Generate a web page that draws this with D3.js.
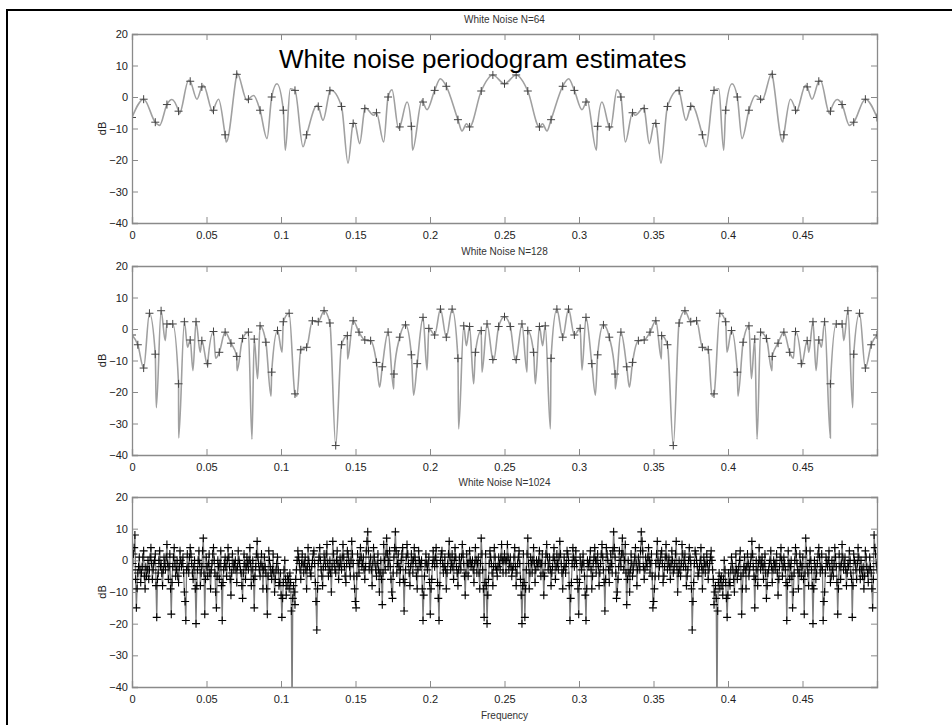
<!DOCTYPE html>
<html>
<head>
<meta charset="utf-8">
<script src="https://cdnjs.cloudflare.com/ajax/libs/d3/7.8.5/d3.min.js"></script>
<style>
body { margin: 0; background: #fff; }
svg text { font-family: "Liberation Sans", Arial, Helvetica, sans-serif; }
</style>
</head>
<body>
<div id="vis"></div>
<script>
var width = 952,
    height = 725;

//--------TICKS--------//
var xTicks = [0, 0.05, 0.1, 0.15, 0.2, 0.25, 0.3, 0.35, 0.4, 0.45];
var xTickLabels = ["0", "0.05", "0.1", "0.15", "0.2", "0.25", "0.3", "0.35", "0.4", "0.45"];
var yTicks = [-40, -30, -20, -10, 0, 10, 20];

//--------DATA (dB)--------//
// N=64, "+" markers every 1/128
var n64Marks = [-6.5, -0.7, -8, -2.4, -4.5, 5, 3.2, -4.2, -12, 7.2, -0.7, -4.2, 0, -4.2, 2.1, -12,
    -3, 2, -3, -8.4, -3.7, -5, 0, -9.5, -9.3, -1.6, 2.1, 3.4, -7.2, -9.5, 1.9, 7, 4.2,
    7, 1.9, -9.5, -7.2, 3.4, 2.1, -1.6, -9.3, -9.5, 0, -5, -3.7, -8.4, -3, 2, -3,
    -12, 2.1, -4.2, 0, -4.2, -0.7, 7.2, -12, -4.2, 3.2, 5, -4.5, -2.4, -8, -0.7, -6.5];
// N=64, peaks and dips of the smooth curve between markers [freq, dB]
var n64Curve = [[0.0185, -9], [0.0268, -0.8], [0.0318, -5.3], [0.038, 5.3], [0.0436, -0.7], [0.048, 3.7],
    [0.0543, -4.8], [0.0581, -0.7], [0.0633, -14.3], [0.0705, 7.6], [0.0772, -1.1], [0.0816, 0.5],
    [0.0906, -13.2], [0.0973, 4.2], [0.1029, -16.9], [0.1062, 2.6], [0.1148, -15.8], [0.1242, -2.6],
    [0.1282, -7.4], [0.1331, 2.3], [0.145, -21], [0.1494, -8.2], [0.1528, -14.8], [0.1566, -3.4],
    [0.1622, -5.8], [0.1689, -14.3], [0.1745, 2.3], [0.1789, -10], [0.1846, -1.6], [0.1883, -16.9],
    [0.1946, -1], [0.198, -4], [0.2069, 5.8], [0.2215, -10.8], [0.2245, -8.5],
    [0.2755, -8.5], [0.2785, -10.8], [0.2931, 5.8], [0.302, -4], [0.3054, -1], [0.3117, -16.9],
    [0.3154, -1.6], [0.3211, -10], [0.3255, 2.3], [0.3311, -14.3], [0.3378, -5.8], [0.3434, -3.4],
    [0.3472, -14.8], [0.3506, -8.2], [0.355, -21], [0.3669, 2.3], [0.3718, -7.4], [0.3758, -2.6],
    [0.3852, -15.8], [0.3938, 2.6], [0.3971, -16.9], [0.4027, 4.2], [0.4094, -13.2], [0.4184, 0.5],
    [0.4228, -1.1], [0.4295, 7.6], [0.4367, -14.3], [0.4419, -0.7], [0.4457, -4.8], [0.452, 3.7],
    [0.4564, -0.7], [0.462, 5.3], [0.4682, -5.3], [0.4732, -0.8], [0.4815, -9]];

// N=128, "+" markers every 1/256
var n128Marks = [-1.9, -5, -12.4, 5, -8, 5.8, 1.6, 1.6, -17.4, 2.3, -3.5, 2.3, -3.7, -11, -0.8, -7.4,
    -1, -4.5, -8.7, -3, -1, -3.2, 1, -4.2, -13.7, -0.5, 2.3, 5, -20.6, -6.6, -5.8, 2.6,
    2.3, 5.8, 1.9, -37, -5, -2.1, 2.6, -1, -3.5, -3.7, -10.6, -12, -1, -14.3, -2.6, 1.3,
    -8.2, -11, 3.7, 0.2, -1.9, 6.3, -2.6, 6.3, -9.3, 1, 0.8, -7.4, -0.5, 1.6, -9.7, 0.8, 3.9,
    0.8, -9.7, 1.6, -0.5, -7.4, 0.8, 1, -9.3, 6.3, -2.6, 6.3, -1.9, 0.2, 3.7, -11, -8.2,
    1.3, -2.6, -14.3, -1, -12, -10.6, -3.7, -3.5, -1, 2.6, -2.1, -5, -37, 1.9, 5.8, 2.3,
    2.6, -5.8, -6.6, -20.6, 5, 2.3, -0.5, -13.7, -4.2, 1, -3.2, -1, -3, -8.7, -4.5, -1,
    -7.4, -0.8, -11, -3.7, 2.3, -3.5, 2.3, -17.4, 1.6, 1.6, 5.8, -8, 5, -12.4, -5, -1.9];
// N=128, dips of the curve between markers [freq, dB]
var n128Curve = [[0.0163, -25], [0.0223, -3.7], [0.0313, -34.6], [0.0373, -5.8], [0.0409, -13.2],
    [0.0458, -7.4], [0.0507, -11.6], [0.0561, -9.3], [0.0705, -13.2], [0.0805, -35], [0.0843, -15.8],
    [0.0933, -21.3], [0.1007, -7.4], [0.1107, -21.3], [0.1447, -9.5], [0.1662, -18.5], [0.1756, -19],
    [0.189, -21], [0.198, -13], [0.2192, -31.7], [0.2244, -5.3], [0.2293, -17.4], [0.2349, -13.7],
    [0.2427, -10],
    [0.2573, -10], [0.2651, -13.7], [0.2707, -17.4], [0.2756, -5.3], [0.2808, -31.7], [0.302, -13],
    [0.311, -21], [0.3244, -19], [0.3338, -18.5], [0.3553, -9.5], [0.3893, -21.3], [0.3993, -7.4],
    [0.4067, -21.3], [0.4157, -15.8], [0.4195, -35], [0.4295, -13.2], [0.4439, -9.3], [0.4493, -11.6],
    [0.4542, -7.4], [0.4591, -13.2], [0.4627, -5.8], [0.4687, -34.6], [0.4777, -3.7], [0.4837, -25]];

// N=1024, "+" markers every 1/1024
var n1024Marks = [
    -3, 2, 8, -15, -4, 1, -7, -2, 3, -9, -5, 0, -3, 4, -6, -1,
    2, -18, -4, 3, -1, -8, 1, -3, 5, -6, 2, -17, -2, 4, -5, 0,
    -7, 3, -2, 1, -10, -19, 2, -4, 4, -1, -6, 0, -20, -3, 3, -8,
    -2, 7, -17, 1, -5, 2, -9, -1, 4, -4, -15, 0, -6, 3, -19, -3,
    1, -5, 4, -2, -11, 2, -3, 0, -7, 3, -1, -4, -12, 2, -6, 1,
    -3, 4, -8, 0, -15, -2, 6, -1, -5, 2, -9, 1, -4, -17, 3, -2,
    -6, 2, -10, -3, 1, -8, -4, -18, -7, 0, -11, -5, -9, -7, -48, -8,
    -14, -3, 3, -1, -6, 2, -4, 1, -9, 4, -2, -5, 0, 3, -7, -22,
    -1, 4, -3, -8, 2, -2, 5, -5, 0, -10, 6, -1, -4, 3, -6, 1,
    -3, 5, -2, -7, 3, 0, -5, 6, -1, -9, -15, 2, -4, 4, -2, 1,
    -6, 3, 9, -3, 1, -8, 4, -1, -5, 2, -10, 0, -14, 5, -3, 7,
    -2, 3, -6, -12, 1, 9, -4, 2, -7, 0, 4, -16, -3, 5, -1, -8,
    2, -4, 4, -1, -9, 3, -2, 0, -19, -5, 2, -3, 1, -17, -6, 3,
    -2, 4, -7, -19, 0, 3, -4, 1, -9, -1, 6, -3, 2, -6, 4, -2,
    -8, 1, -3, 5, -1, -11, 2, -5, 3, -2, 0, -7, 4, -4, 1, -9,
    7, -3, -18, 2, -20, -6, 3, -1, -8, 4, -2, -5, 1, -3, 5, -4,
    2,
    -4, 5, -3, 1, -5, -2, 4, -8, -1, 3, -6, -20, 2, -18, -3, 7,
    -9, 1, -4, 4, -7, 0, -2, 3, -5, 2, -11, -1, 5, -3, 1, -8,
    -2, 4, -6, 2, -3, 6, -1, -9, 1, -4, 3, 0, -19, -7, 4, -2,
    3, -6, -17, 1, -3, 2, -5, -19, 0, -2, 3, -9, -1, 4, -4, 2,
    -8, -1, 5, -3, -16, 4, 0, -7, 2, -4, 9, 1, -12, -6, 3, -2,
    7, -3, 5, -14, 0, -10, 2, -5, -1, 4, -8, 1, -3, 9, 3, -6,
    1, -2, 4, -4, 2, -15, -9, -1, 6, -5, 0, 3, -7, -2, 5, -3,
    1, -6, 3, -4, -1, 6, -10, 0, -5, 5, -2, 2, -8, -3, 4, -1,
    -22, -7, 3, 0, -5, -2, 4, -9, 1, -4, 2, -6, -1, 3, -3, -14,
    -8, -48, -7, -9, -5, -11, 0, -7, -18, -4, -8, 1, -3, -10, 2, -6,
    -2, 3, -17, -4, 1, -9, 2, -5, -1, 6, -2, -15, 0, -8, 4, -3,
    1, -6, 2, -12, -4, -1, 3, -7, 0, -3, 2, -11, -2, 4, -5, 1,
    -3, -19, 3, -6, 0, -15, -4, 4, -1, -9, 2, -5, 1, -17, 7, -2,
    -8, 3, -3, -20, 0, -6, -1, 4, -4, 2, -19, -10, 1, -2, 3, -7,
    0, -5, 4, -2, -17, 2, -6, 5, -3, 1, -8, -1, 3, -4, -18, 2,
    -1, -6, 4, -3, 0, -5, -9, 3, -2, -7, 1, -4, -15, 8, 2, -3];
// N=1024, in-between "+" markers at (k + 1/2)/1024
var n1024Half = [
    -1, 4, -6, -9, -2, -3, -4, 1, -5, -2, -3, -6, 1, -1, -3, 0,
    -8, -6, 0, -2, -4, -3, -1, 1, -1, -2, -9, -7, 1, -1, -3, -5,
    -2, 0, -1, -4, -13, -3, -2, 1, 2, -4, -2, -9, -8, 0, -1, -4,
    3, -4, -6, -2, -1, -4, -3, 2, 0, -10, -5, -2, -1, -8, -7, -1,
    -2, 0, 1, -6, -4, -1, -1, -3, -2, 0, -3, -8, -4, -1, -2, -1,
    0, -1, -3, -6, -5, 2, 1, -3, -1, -2, -3, -2, -9, -5, 0, -4,
    -3, -4, -6, -1, -3, -7, -11, -12, -3, -6, -8, -6, -4, -16, -12, -10,
    -6, 0, 1, -3, -1, -1, -1, -3, -2, 0, -4, -2, 2, -1, -13, -9,
    1, 0, -5, -2, 0, 2, -1, -3, -4, -2, 2, -3, 0, -1, -2, -1,
    1, 1, -5, -1, 2, -2, 0, 2, -5, -13, -5, -1, 0, 1, -1, -3,
    -2, 6, 3, -1, -3, -1, 1, -3, -1, -3, -4, -6, -4, 0, 2, 2,
    0, -2, -10, -4, 4, 3, -1, -2, -3, 2, -6, -7, 1, 2, -4, -2,
    0, 0, 1, -5, -3, 0, -1, -9, -11, -1, -1, -1, -7, -9, -1, 0,
    1, -1, -12, -8, 2, -1, -2, -3, -4, 2, 1, -1, -2, 0, 1, -4,
    -3, -1, 1, 2, -5, -4, -1, -1, 0, -1, -3, -1, 0, -1, -4, -1,
    2, -9, -7, -8, -11, -1, 1, -4, -2, 1, -3, -2, -1, 1, 0, 0,
    0, 0, 1, -1, -2, -3, 1, -2, -4, 1, -1, -11, -8, -7, -9, 2,
    -1, -4, -1, 0, -1, -3, -1, 0, -1, -1, -4, -5, 2, 1, -1, -3,
    -4, 1, 0, -2, -1, 1, 2, -4, -3, -2, -1, 2, -8, -12, -1, 1,
    0, -1, -9, -7, -1, -1, -1, -11, -9, -1, 0, -3, -5, 1, 0, 0,
    -2, -4, 2, 1, -7, -6, 2, -3, -2, -1, 3, 4, -4, -10, -2, 0,
    2, 2, 0, -4, -6, -4, -3, -1, -3, 1, -1, -3, -1, 3, 6, -2,
    -3, -1, 1, 0, -1, -5, -13, -5, 2, 0, -2, 2, -1, -5, 1, 1,
    -1, -2, -1, 0, -3, 2, -2, -4, -3, -1, 2, 0, -2, -5, 0, 1,
    -9, -13, -1, 2, -2, -4, 0, -2, -3, -1, -1, -1, -3, 1, 0, -6,
    -10, -12, -16, -4, -6, -8, -6, -3, -12, -11, -7, -3, -1, -6, -4, -3,
    -4, 0, -5, -9, -2, -3, -2, -1, -3, 1, 2, -5, -6, -3, -1, 0,
    -1, -2, -1, -4, -8, -3, 0, -2, -3, -1, -1, -4, -6, 1, 0, -2,
    -1, -7, -8, -1, -2, -5, -10, 0, 2, -3, -4, -1, -2, -6, -4, 3,
    -4, -1, 0, -8, -9, -2, -4, 2, 1, -2, -3, -13, -4, -1, 0, -2,
    -5, -3, -1, 1, -7, -9, -2, -1, 1, -1, -3, -4, -2, 0, -6, -8,
    0, -3, -1, 1, -6, -3, -2, -5, 1, -4, -3, -2, -9, -6, 4, -1];

var panels = [
    {title: "White Noise N=64", top: 34, bottom: 223, marks: n64Marks, half: [], step: 1 / 128, curve: n64Curve, smooth: true},
    {title: "White Noise N=128", top: 266, bottom: 455, marks: n128Marks, half: [], step: 1 / 256, curve: n128Curve, smooth: true},
    {title: "White Noise N=1024", top: 497, bottom: 687, marks: n1024Marks, half: n1024Half, step: 1 / 1024, curve: [], smooth: false}
];

var svg = d3.select("#vis").append("svg")
    .attr("width", width)
    .attr("height", height);

// slide border (top and left only)
svg.append("line").attr("x1", 7).attr("x2", width).attr("y1", 10).attr("y2", 10)
    .style("stroke", "#000").style("stroke-width", 2);
svg.append("line").attr("x1", 7).attr("x2", 7).attr("y1", 9).attr("y2", height)
    .style("stroke", "#000").style("stroke-width", 2);

var x = d3.scaleLinear().domain([0, 0.5]).range([132, 877]);

panels.forEach(function(p, pi) {
    var y = d3.scaleLinear().domain([-40, 20]).range([p.bottom, p.top]);
    var g = svg.append("g");

    g.append("clipPath").attr("id", "clip" + pi)
      .append("rect")
        .attr("x", x(0)).attr("y", p.top)
        .attr("width", x(0.5) - x(0)).attr("height", p.bottom - p.top);

    var pts = p.marks.map(function(v, i) { return [i * p.step, v]; })
        .concat(p.half.map(function(v, i) { return [(i + 0.5) * p.step, v]; }));
    var linePts = pts.concat(p.curve).sort(function(a, b) { return a[0] - b[0]; });

    var line = d3.line()
        .x(function(d) { return x(d[0]); })
        .y(function(d) { return y(d[1]); })
        .curve(p.smooth ? d3.curveMonotoneX : d3.curveLinear);

    var plot = g.append("g").attr("clip-path", "url(#clip" + pi + ")");

    plot.append("path")
        .datum(linePts)
        .attr("d", line)
        .style("fill", "none")
        .style("stroke", p.smooth ? "#a0a0a0" : "#7c7c7c")
        .style("stroke-width", p.smooth ? 1.6 : 1.3);

    plot.append("path")
        .attr("d", pts.map(function(d) {
            var px = x(d[0]), py = y(d[1]);
            return "M" + (px - 4) + "," + py + "h8M" + px + "," + (py - 4) + "v8";
        }).join(""))
        .style("fill", "none")
        .style("stroke", p.smooth ? "#444" : "#000")
        .style("stroke-width", p.smooth ? 1 : 1.1);

    //--------AXES--------//
    var xb = d3.axisBottom(x).tickValues(xTicks).tickSize(-6).tickPadding(8)
        .tickFormat(function(d, i) { return xTickLabels[i]; });
    var xt = d3.axisTop(x).tickValues(xTicks).tickSize(-6).tickFormat("");
    var yl = d3.axisLeft(y).tickValues(yTicks).tickSize(-6).tickPadding(4);
    var yr = d3.axisRight(y).tickValues(yTicks).tickSize(-6).tickFormat("");

    g.append("g").attr("transform", "translate(0," + p.bottom + ")").call(xb);
    g.append("g").attr("transform", "translate(0," + p.top + ")").call(xt);
    g.append("g").attr("transform", "translate(" + x(0) + ",0)").call(yl);
    g.append("g").attr("transform", "translate(" + x(0.5) + ",0)").call(yr);

    g.selectAll(".domain").style("stroke", "#8a8a8a").style("stroke-width", 1.3);
    g.selectAll(".tick line").style("stroke", "#8a8a8a");
    g.selectAll(".tick text").style("font-size", "11px").style("fill", "#222");

    g.append("text")
        .attr("x", (x(0) + x(0.5)) / 2)
        .attr("y", p.top - 11)
        .attr("text-anchor", "middle")
        .style("font-size", "10px")
        .style("fill", "#333")
        .text(p.title);

    g.append("text")
        .attr("transform", "translate(106," + ((p.top + p.bottom) / 2) + ") rotate(-90)")
        .attr("text-anchor", "middle")
        .style("font-size", "11px")
        .style("fill", "#222")
        .text("dB");
});

svg.append("text")
    .attr("x", (x(0) + x(0.5)) / 2)
    .attr("y", 719)
    .attr("text-anchor", "middle")
    .style("font-size", "10px")
    .style("fill", "#333")
    .text("Frequency");

svg.append("text")
    .attr("x", 279)
    .attr("y", 68)
    .style("font-size", "26px")
    .style("fill", "#000")
    .text("White noise periodogram estimates");
</script>
</body>
</html>
